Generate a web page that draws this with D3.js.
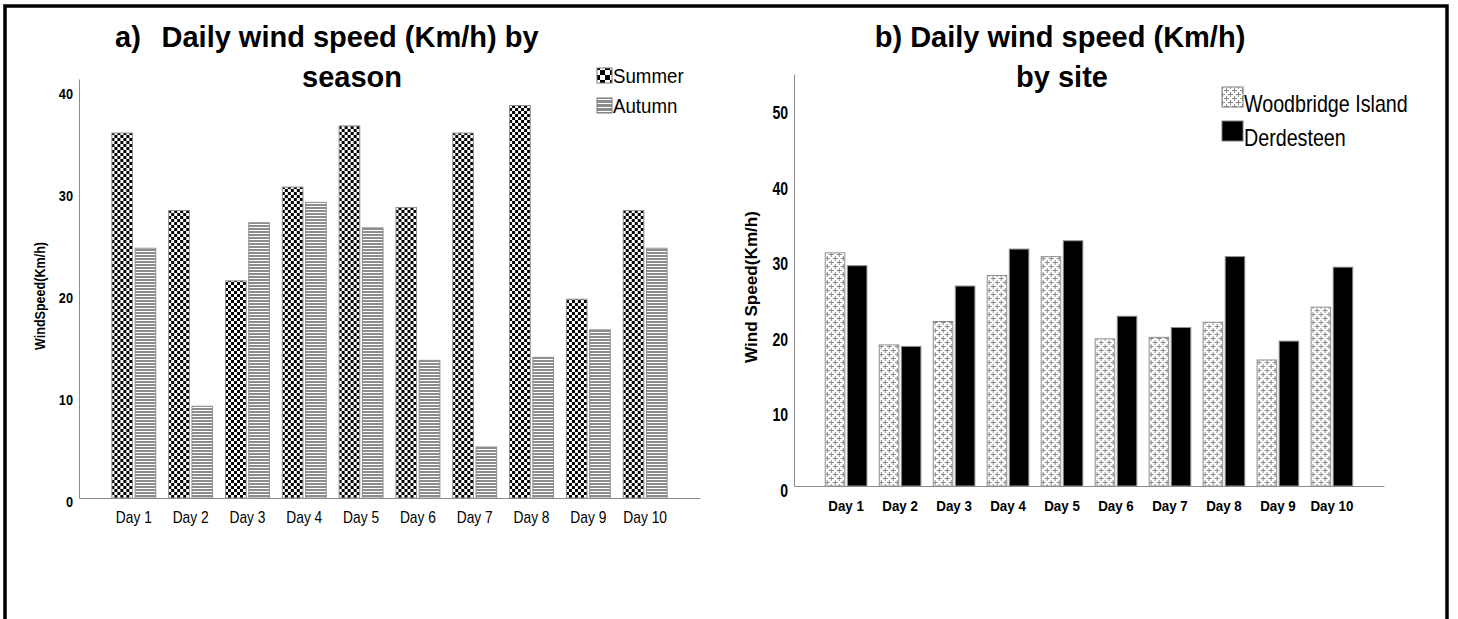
<!DOCTYPE html>
<html lang="en">
<head>
    <meta charset="utf-8">
    <title>Daily wind speed by season and by site</title>
    <script type="text/javascript" src="https://d3js.org/d3.v7.min.js"></script>

    <style type="text/css">
        body {
            margin: 0;
            background: white;
        }

        text {
            font-family: "Liberation Sans", Arial, sans-serif;
            fill: black;
        }

        .title {
            font-size: 29px;
            font-weight: bold;
        }
    </style>
</head>
<body>

    <div id="chart"></div>

    <script type="text/javascript">

        //Width and height of the whole picture
        var w = 1458;
        var h = 619;

        //Categories
        var days = ["Day 1", "Day 2", "Day 3", "Day 4", "Day 5", "Day 6", "Day 7", "Day 8", "Day 9", "Day 10"];

        //Panel a) series
        var seasons = ["Summer", "Autumn"];
        var summer = [35.8, 28.2, 21.3, 30.5, 36.5, 28.5, 35.8, 38.5, 19.5, 28.2];
        var autumn = [24.5, 9.0, 27.0, 29.0, 26.5, 13.5, 5.0, 13.8, 16.5, 24.5];

        //Panel b) series
        var sites = ["Woodbridge Island", "Derdesteen"];
        var woodbridge = [30.9, 18.7, 21.8, 27.9, 30.4, 19.5, 19.7, 21.7, 16.7, 23.7];
        var derdesteen = [29.2, 18.5, 26.5, 31.4, 32.5, 22.5, 21.0, 30.4, 19.2, 29.0];

        //Tick values of the two y axes
        var ticksA = [0, 10, 20, 30, 40];
        var ticksB = [0, 10, 20, 30, 40, 50];

        var svg = d3.select("#chart")
            .append("svg")
            .attr("width", w)
            .attr("height", h);

        //The source uses a tall, narrow face: squeeze text sideways
        function condense(sel, f) {
            sel.each(function () {
                var l = this.getComputedTextLength();
                d3.select(this)
                    .attr("textLength", l * f)
                    .attr("lengthAdjust", "spacingAndGlyphs");
            });
        }

        //Fill patterns (checks, stripes, crosses)
        var defs = svg.append("defs");

        function checks(id, s) {
            var p = defs.append("pattern").attr("id", id)
                .attr("patternUnits", "userSpaceOnUse")
                .attr("width", s * 2).attr("height", s * 2);
            p.append("rect").attr("width", s * 2).attr("height", s * 2).attr("fill", "white");
            p.append("rect").attr("width", s).attr("height", s).attr("fill", "black");
            p.append("rect").attr("x", s).attr("y", s).attr("width", s).attr("height", s).attr("fill", "black");
        }
        checks("checks", 3);
        checks("checksBig", 5);

        function stripes(id, s) {
            var p = defs.append("pattern").attr("id", id)
                .attr("patternUnits", "userSpaceOnUse")
                .attr("width", 6).attr("height", s);
            p.append("rect").attr("width", 6).attr("height", s).attr("fill", "white");
            p.append("rect").attr("width", 6).attr("height", s - 1).attr("fill", "#8c8c8c");
        }
        stripes("stripes", 3);
        stripes("stripesBig", 4);

        var cross = defs.append("pattern").attr("id", "cross")
            .attr("patternUnits", "userSpaceOnUse")
            .attr("width", 8).attr("height", 8);
        cross.append("rect").attr("width", 8).attr("height", 8).attr("fill", "white");
        //[x, y, w, h] pieces of two plus signs, wrapped around the tile
        [[0, 2, 5, 1], [2, 0, 1, 5], [4, 6, 4, 1], [0, 6, 1, 1], [6, 4, 1, 4], [6, 0, 1, 1]].forEach(function (r) {
            cross.append("rect")
                .attr("x", r[0]).attr("y", r[1])
                .attr("width", r[2]).attr("height", r[3])
                .attr("fill", "#8a8a8a");
        });

        //Outer frame
        svg.append("rect")
            .attr("x", 5)
            .attr("y", 6)
            .attr("width", 1442)
            .attr("height", 700)
            .attr("fill", "none")
            .attr("stroke", "black")
            .attr("stroke-width", 3.5);

        //Draws one grouped bar panel
        function panel(o) {

            var g = svg.append("g");

            var x0 = d3.scaleBand()
                .domain(days)
                .range([o.left, o.right])
                .paddingInner(0.21)
                .paddingOuter(0.57);

            var x1 = d3.scaleBand()
                .domain(o.keys)
                .range([0, x0.bandwidth()])
                .paddingInner(0.07);

            var y = d3.scaleLinear()
                .domain([0, o.max])
                .range([o.bottom, o.top]);

            //One row per day, one value per series
            var rows = days.map(function (d, i) {
                return { day: d, values: o.series.map(function (s, j) { return { key: o.keys[j], value: s[i] }; }) };
            });

            g.selectAll(".day")
                .data(rows)
                .enter()
                .append("g")
                .attr("class", "day")
                .attr("transform", function (d) { return "translate(" + x0(d.day) + ",0)"; })
                .selectAll("rect")
                .data(function (d) { return d.values; })
                .enter()
                .append("rect")
                .attr("x", function (d) { return x1(d.key) + 0.5; })
                .attr("y", function (d) { return y(d.value); })
                .attr("width", x1.bandwidth() - 1)
                .attr("height", function (d) { return y(0) - y(d.value); })
                .attr("fill", function (d, j) { return o.fills[j]; })
                .attr("stroke", "#8f8f8f")
                .attr("stroke-width", 1);

            //Y axis
            var yAxis = g.append("g")
                .attr("transform", "translate(" + o.left + ",0)")
                .call(d3.axisLeft(y).tickValues(o.ticks).tickSize(0).tickSizeOuter(0).tickPadding(6));
            yAxis.select(".domain").attr("stroke", "#8c8c8c");
            yAxis.selectAll("text")
                .attr("font-family", null)
                .attr("font-size", o.tickFont)
                .attr("font-weight", "bold")
                .attr("dy", null)
                .attr("y", o.tickDy)
                .call(condense, o.tickSqueeze);

            //X axis
            var xAxis = g.append("g")
                .attr("transform", "translate(0," + o.bottom + ")")
                .call(d3.axisBottom(x0).tickSize(0).tickSizeOuter(0));
            xAxis.select(".domain").attr("stroke", "#8c8c8c");
            xAxis.selectAll("text")
                .attr("font-family", null)
                .attr("font-size", o.dayFont)
                .attr("font-weight", o.dayWeight)
                .attr("dy", null)
                .attr("y", 24.7)
                .call(condense, o.daySqueeze);

            //Y axis title
            g.append("text")
                .attr("transform", "translate(" + o.yTitleX + "," + o.yTitleY + ") rotate(-90)")
                .attr("text-anchor", "middle")
                .attr("font-size", o.yTitleFont)
                .attr("font-weight", "bold")
                .attr("textLength", o.yTitleLen)
                .attr("lengthAdjust", "spacingAndGlyphs")
                .text(o.yTitle);

            //Legend
            o.keys.forEach(function (k, j) {
                g.append("rect")
                    .attr("x", o.legX)
                    .attr("y", o.legY[j])
                    .attr("width", o.legW)
                    .attr("height", o.legH)
                    .attr("fill", o.legFills[j])
                    .attr("stroke", "#7a7a7a")
                    .attr("stroke-width", 1);
                g.append("text")
                    .attr("x", o.legX + o.legW + 1)
                    .attr("y", o.legY[j] + o.legTextDy)
                    .attr("font-size", o.legFont)
                    .text(k)
                    .call(condense, o.legSqueeze);
            });
        }

        //Panel a) by season
        panel({
            left: 79, right: 700, top: 79, bottom: 498, max: 41.1,
            keys: seasons, series: [summer, autumn],
            fills: ["url(#checks)", "url(#stripes)"],
            legFills: ["url(#checksBig)", "url(#stripesBig)"],
            ticks: ticksA, tickFont: "15px", tickDy: 8.5, tickSqueeze: 0.85,
            dayFont: "17px", dayWeight: "normal", daySqueeze: 0.81,
            yTitle: "WindSpeed(Km/h)", yTitleX: 45, yTitleY: 296, yTitleFont: "14.5px", yTitleLen: 108,
            legX: 597, legY: [68, 98], legW: 15, legH: 15, legTextDy: 15, legFont: "21px", legSqueeze: 0.89
        });

        //Panel b) by site
        panel({
            left: 794, right: 1384, top: 74, bottom: 486, max: 54.6,
            keys: sites, series: [woodbridge, derdesteen],
            fills: ["url(#cross)", "black"],
            legFills: ["url(#cross)", "black"],
            ticks: ticksB, tickFont: "18px", tickDy: 10, tickSqueeze: 0.78,
            dayFont: "15.5px", dayWeight: "bold", daySqueeze: 0.86,
            yTitle: "Wind Speed(Km/h)", yTitleX: 757, yTitleY: 287, yTitleFont: "16.5px", yTitleLen: 152,
            legX: 1222, legY: [87, 121], legW: 21, legH: 20, legTextDy: 25, legFont: "24px", legSqueeze: 0.82
        });

        //Titles
        var titleA = svg.append("text").attr("class", "title").attr("y", 47);
        titleA.append("tspan").attr("x", 115).text("a)");
        titleA.append("tspan").attr("x", 161.5).text("Daily wind speed (Km/h) by");
        svg.append("text").attr("class", "title").attr("x", 302).attr("y", 87).text("season");

        svg.append("text").attr("class", "title").attr("x", 1060).attr("y", 47)
            .attr("text-anchor", "middle").text("b) Daily wind speed (Km/h)");
        svg.append("text").attr("class", "title").attr("x", 1062).attr("y", 87)
            .attr("text-anchor", "middle").text("by site");

    </script>
</body>
</html>
